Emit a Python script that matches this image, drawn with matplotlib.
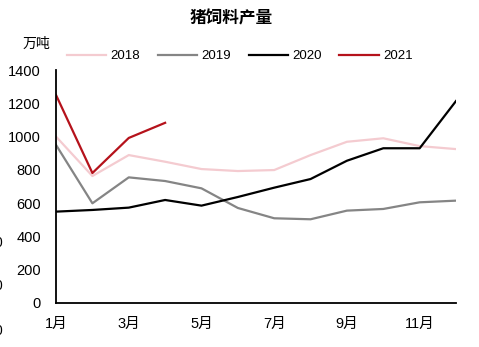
import matplotlib.pyplot as plt

plt.rcParams['font.family'] = ['Liberation Sans', 'Noto Sans CJK SC', 'DejaVu Sans']

months = list(range(1, 13))
tick_months = [1, 3, 5, 7, 9, 11]
tick_labels = ["1月", "3月", "5月", "7月", "9月", "11月"]

y2018 = [1000, 763, 889, 849, 805, 793, 799, 889, 969, 990, 943, 925]
y2019 = [950, 599, 755, 733, 689, 571, 509, 503, 555, 565, 605, 615]
y2020 = [549, 559, 573, 619, 585, 637, 693, 745, 855, 930, 930, 1214]
y2021 = [1250, 781, 992, 1083]

fig = plt.figure(figsize=(4.79, 3.47), dpi=100)
ax = fig.add_axes([0.117, 0.127, 0.835, 0.671])

ax.plot(months, y2018, color="#f4cbd0", lw=1.6, label="2018")
ax.plot(months, y2019, color="#858585", lw=1.6, label="2019")
ax.plot(months, y2020, color="black", lw=1.6, label="2020")
ax.plot(months[:len(y2021)], y2021, color="#b5121b", lw=1.6, label="2021")

ax.set_xlim(1, 12)
ax.set_ylim(0, 1400)
ax.set_yticks(range(0, 1401, 200))
ax.set_xticks(tick_months)
ax.set_xticklabels(tick_labels)
ax.tick_params(length=0, labelsize=10.5)
ax.tick_params(axis="x", pad=10)
ax.tick_params(axis="y", pad=11)
for s in ["top", "right"]:
    ax.spines[s].set_visible(False)
for s in ["left", "bottom"]:
    ax.spines[s].set_linewidth(1.3)

fig.text(0.483, 0.948, "猪饲料产量", ha="center", va="center",
         fontsize=12, fontweight="bold")
fig.text(0.046, 0.874, "万吨", ha="left", va="center", fontsize=10)

ax.legend(loc="lower center", bbox_to_anchor=(0.459, 1.0), ncol=4, frameon=False,
          fontsize=9.5, handlelength=3.0, columnspacing=1.35, handletextpad=0.3,
          borderaxespad=0.2)

# clipped labels from neighbouring chart at left edge
for yy in [243, 286, 331]:
    fig.text(-0.012, 1 - yy / 347, "0", ha="left", va="center", fontsize=10)

fig.savefig("out.png", dpi=100)
